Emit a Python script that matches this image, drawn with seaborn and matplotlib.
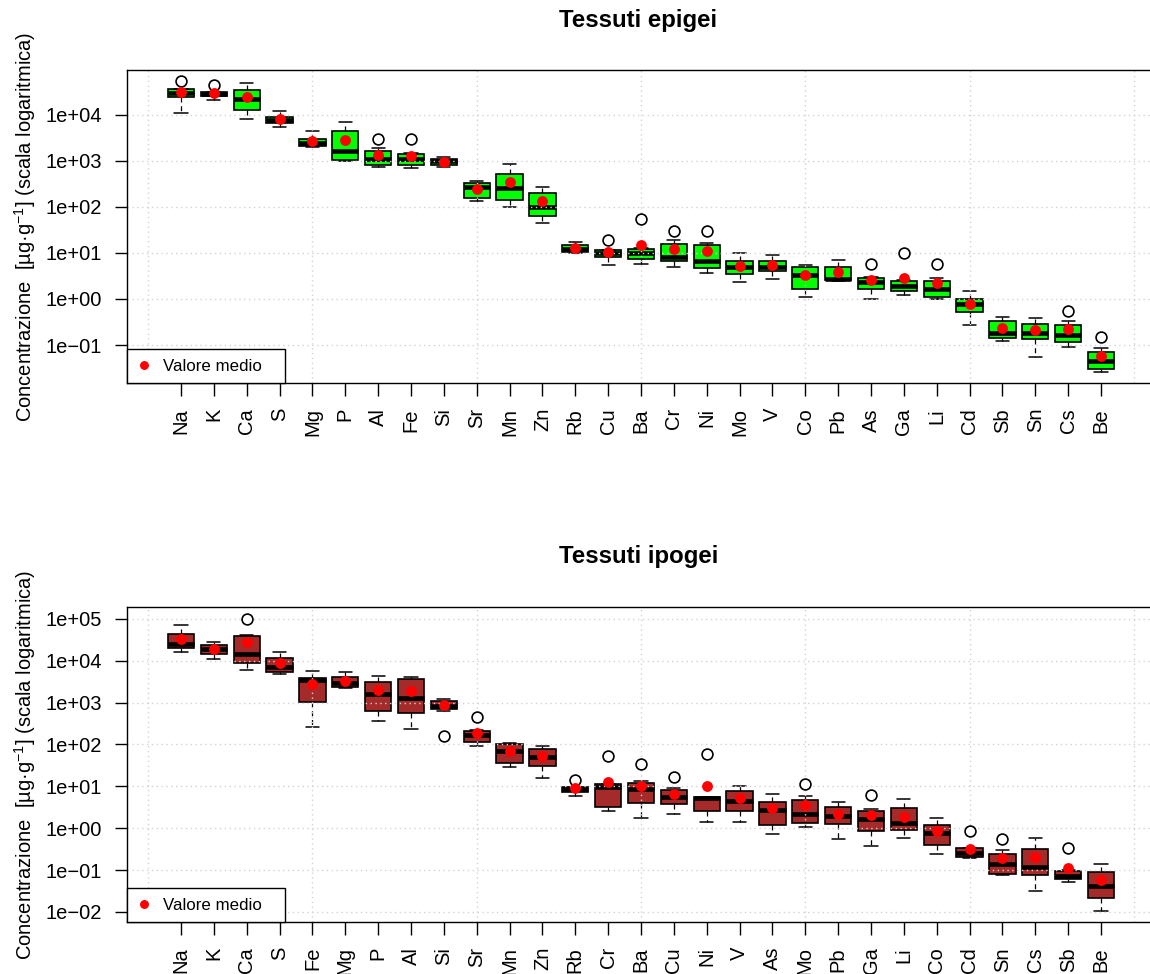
import numpy as np
import pandas as pd
import matplotlib
matplotlib.use("Agg")
import matplotlib.pyplot as plt
import seaborn as sns
from matplotlib.lines import Line2D
from matplotlib.ticker import FixedLocator, FuncFormatter, NullLocator

# ---------------- data: Tessuti epigei ----------------
epi_elements = ["Na", "K", "Ca", "S", "Mg", "P", "Al", "Fe", "Si", "Sr", "Mn", "Zn", "Rb", "Cu", "Ba",
                "Cr", "Ni", "Mo", "V", "Co", "Pb", "As", "Ga", "Li", "Cd", "Sb", "Sn", "Cs", "Be"]
epi_lo = [11200, 20900, 8300, 5570, 2050, 1000, 751, 693, 729, 133, 100, 44.9, 10.2, 5.5, 5.85,
          4.9, 3.6, 2.38, 2.76, 1.1, 2.5, 1.0, 1.22, 1.0, 0.27, 0.124, 0.0557, 0.092, 0.0263]
epi_q1 = [25000, 25900, 12700, 6600, 2120, 1050, 819, 832, 807, 155, 142, 64.7, 10.4, 8.3, 7.5,
          6.6, 4.65, 3.55, 4.06, 1.67, 2.55, 1.67, 1.49, 1.12, 0.53, 0.144, 0.135, 0.118, 0.0305]
epi_med = [29600, 28600, 22600, 7680, 2500, 1680, 1100, 1120, 1000, 268, 255, 100, 12.2, 10.0, 9.8,
           8.3, 6.8, 5.0, 5.0, 3.27, 2.72, 2.38, 1.95, 1.67, 0.77, 0.185, 0.18, 0.168, 0.0456]
epi_q3 = [36200, 31600, 34400, 8900, 3060, 4560, 1680, 1400, 1100, 327, 514, 205, 14.7, 11.6, 12.4,
          15.7, 14.9, 6.7, 6.6, 4.9, 4.9, 2.82, 2.46, 2.46, 0.98, 0.333, 0.286, 0.272, 0.0693]
epi_hi = [37300, 31600, 48900, 12400, 4430, 7050, 1950, 1510, 1240, 362, 873, 276, 17.6, 11.8, 13.0,
          18.9, 16.5, 9.8, 9.2, 5.57, 7.15, 2.97, 2.59, 2.82, 1.49, 0.40, 0.39, 0.327, 0.0848]
epi_mean = [31100, 29600, 25000, 8070, 2680, 2820, 1350, 1285, 950, 246, 349, 135, 12.6, 10.7, 14.9,
            12.0, 10.9, 5.3, 5.4, 3.3, 3.8, 2.55, 2.82, 2.19, 0.79, 0.234, 0.209, 0.22, 0.0577]
epi_out_elem = ["Na", "K", "Al", "Fe", "Cu", "Ba", "Cr", "Ni", "As", "Ga", "Li", "Cs", "Be"]
epi_out_val = [54800, 44900, 2970, 2970, 18.9, 55.7, 29.7, 30.6, 5.77, 9.8, 5.85, 0.557, 0.147]

# ---------------- data: Tessuti ipogei ----------------
ipo_elements = ["Na", "K", "Ca", "S", "Fe", "Mg", "P", "Al", "Si", "Sr", "Mn", "Zn", "Rb", "Cr", "Ba",
                "Cu", "Ni", "V", "As", "Mo", "Pb", "Ga", "Li", "Co", "Cd", "Sn", "Cs", "Sb", "Be"]
ipo_lo = [16200, 11200, 5890, 4800, 257, 2180, 364, 239, 612, 90, 28.3, 16.0, 6.0, 2.58, 1.72,
          2.19, 1.38, 1.43, 0.74, 1.04, 0.54, 0.366, 0.57, 0.244, 0.196, 0.077, 0.0317, 0.052, 0.0105]
ipo_q1 = [19800, 14700, 8670, 5360, 1040, 2300, 632, 548, 684, 112, 36.6, 30.3, 7.4, 3.28, 3.93,
          3.8, 2.53, 2.63, 1.19, 1.33, 1.26, 0.87, 0.905, 0.395, 0.204, 0.0798, 0.0767, 0.0605, 0.0212]
ipo_med = [25100, 18700, 14500, 7180, 3440, 2970, 1620, 1300, 821, 165, 69.5, 49.1, 8.5, 9.5, 8.7,
           5.5, 5.2, 4.57, 2.73, 2.19, 1.92, 1.66, 1.3, 0.75, 0.249, 0.138, 0.121, 0.0726, 0.0418]
ipo_q3 = [43700, 23400, 37700, 11800, 3850, 4000, 3040, 3640, 1060, 209, 104, 79.3, 9.7, 11.2, 11.9,
          8.2, 5.5, 7.8, 4.25, 4.75, 3.16, 2.58, 3.05, 1.21, 0.328, 0.244, 0.317, 0.0957, 0.092]
ipo_hi = [69000, 28100, 41300, 16400, 5660, 5270, 4370, 4000, 1230, 218, 108, 91.6, 9.8, 11.5, 13.6,
          9.2, 5.6, 10.4, 6.7, 5.8, 4.16, 2.88, 4.91, 1.72, 0.33, 0.305, 0.59, 0.103, 0.143]
ipo_mean = [32600, 18700, 27600, 8670, 2810, 3210, 1950, 1910, 850, 185, 70, 53.8, 9.0, 12.8, 10.4,
            6.7, 10.4, 5.3, 3.05, 3.6, 2.19, 2.07, 1.89, 0.857, 0.322, 0.193, 0.207, 0.109, 0.0592]
ipo_out_elem = ["Ca", "Si", "Sr", "Rb", "Cr", "Ba", "Cu", "Ni", "Mo", "Ga", "Cd", "Sn", "Sb"]
ipo_out_val = [96200, 163, 447, 14.3, 53.8, 33.9, 16.3, 58, 11.2, 6.35, 0.838, 0.538, 0.34]

epi_title = "Tessuti epigei"
ipo_title = "Tessuti ipogei"
ylabel_text = "Concentrazione  [µg·g$^{-1}$] (scala logaritmica)"
legend_label = "Valore medio   "

# ---------------- style ----------------
sns.set_style("white")
plt.rcParams["font.family"] = ["Liberation Sans", "DejaVu Sans"]
plt.rcParams["mathtext.fontset"] = "custom"
plt.rcParams["mathtext.rm"] = "Liberation Sans"
plt.rcParams["mathtext.it"] = "Liberation Sans:italic"
plt.rcParams["mathtext.bf"] = "Liberation Sans:bold"
plt.rcParams["mathtext.default"] = "regular"
plt.rcParams["axes.unicode_minus"] = True
plt.rcParams["text.color"] = "black"
plt.rcParams["axes.labelcolor"] = "black"
plt.rcParams["xtick.color"] = "black"
plt.rcParams["ytick.color"] = "black"

W, H = 1150, 974
fig = plt.figure(figsize=(W / 100, H / 100), dpi=100)
fig.patch.set_facecolor("white")

TICK_FS = 14.5
GRID_KW = dict(color="#D3D3D3", linestyle=(0, (1, 2.5)), linewidth=1.0, zorder=2.5)


def fmt(v, _):
    return f"{v:.0e}".replace("-", "\u2212")


def draw_panel(rect, elements, lo, q1, med, q3, hi, means, out_el, out_val,
               fill, title, ylog_min, ylog_max, decades):
    ax = fig.add_axes(rect)
    rows = []
    for e, a, b, c, d, f in zip(elements, lo, q1, med, q3, hi):
        for v in (a, b, c, d, f):
            rows.append((e, v))
    df = pd.DataFrame(rows, columns=["elemento", "valore"])

    sns.boxplot(data=df, x="elemento", y="valore", order=elements, color=fill,
                saturation=1, width=0.8, whis=(0, 100), showfliers=False,
                linecolor="black", linewidth=1.2, log_scale=True, ax=ax,
                medianprops=dict(linewidth=3.3, color="black", solid_capstyle="butt"),
                whiskerprops=dict(linestyle=(0, (4, 3)), linewidth=0.9),
                capprops=dict(linewidth=1.1))

    # outliers (open circles)
    sns.stripplot(x=out_el, y=out_val, order=elements, jitter=False, color="white",
                  edgecolor="black", linewidth=1.2, size=7.8, marker="o", ax=ax, zorder=3)
    # means (red dots)
    sns.stripplot(x=elements, y=means, order=elements, jitter=False, color="red",
                  linewidth=0, size=7.8, ax=ax, zorder=4)

    n = len(elements)
    ax.set_xlim(-1.643, n + 0.49)
    ax.set_ylim(10.0 ** ylog_min, 10.0 ** ylog_max)

    # dotted grid drawn over boxes, like R's grid()
    for k in decades:
        ax.axhline(10.0 ** k, **GRID_KW)
    for gx in range(-1, n + 1, 5):
        ax.axvline(gx, **GRID_KW)

    ax.yaxis.set_major_locator(FixedLocator([10.0 ** k for k in decades]))
    ax.yaxis.set_minor_locator(NullLocator())
    ax.yaxis.set_major_formatter(FuncFormatter(fmt))
    ax.set_xticks(range(n))
    ax.set_xticklabels(elements)
    ax.tick_params(axis="both", which="major", direction="out", length=9, width=1.0,
                   pad=9, labelsize=TICK_FS, colors="black", left=True, bottom=True)
    ax.tick_params(axis="x", labelrotation=90)
    ax.set_xlabel("")
    ax.set_ylabel("")
    for s in ["left", "bottom", "top"]:
        ax.spines[s].set_visible(True)
        ax.spines[s].set_color("black")
        ax.spines[s].set_linewidth(1.0)
    ax.spines["right"].set_visible(False)

    h = Line2D([], [], marker="o", ls="none", color="red", markersize=5.4)
    leg = ax.legend([h], [legend_label], loc="lower left", bbox_to_anchor=(0, 0),
                    borderaxespad=0, fancybox=False, edgecolor="black", framealpha=1,
                    fontsize=12.2, handlelength=0.95, handletextpad=0.6, borderpad=0.55)
    leg.get_frame().set_linewidth(1.0)
    leg.set_zorder(10)

    # title and y label
    x0, y0, w, hgt = rect
    fig.text(x0 + w / 2, y0 + hgt + 50 / H, title, ha="center", va="center",
             fontsize=17.3, fontweight="bold", color="black")
    fig.text(25 / W, y0 + hgt / 2, ylabel_text, rotation=90, ha="center", va="center",
             fontsize=14.5, color="black")
    return ax


draw_panel([127 / W, 1 - 383 / H, 1023 / W, 313 / H], epi_elements, epi_lo, epi_q1, epi_med,
           epi_q3, epi_hi, epi_mean, epi_out_elem, epi_out_val, "#00FF00", epi_title,
           -1.826, 4.978, range(-1, 5))
draw_panel([127 / W, 1 - 922 / H, 1023 / W, 315 / H], ipo_elements, ipo_lo, ipo_q1, ipo_med,
           ipo_q3, ipo_hi, ipo_mean, ipo_out_elem, ipo_out_val, "#A52A2A", ipo_title,
           -2.24, 5.28, range(-2, 6))

fig.savefig("out.png", dpi=100, facecolor="white")
